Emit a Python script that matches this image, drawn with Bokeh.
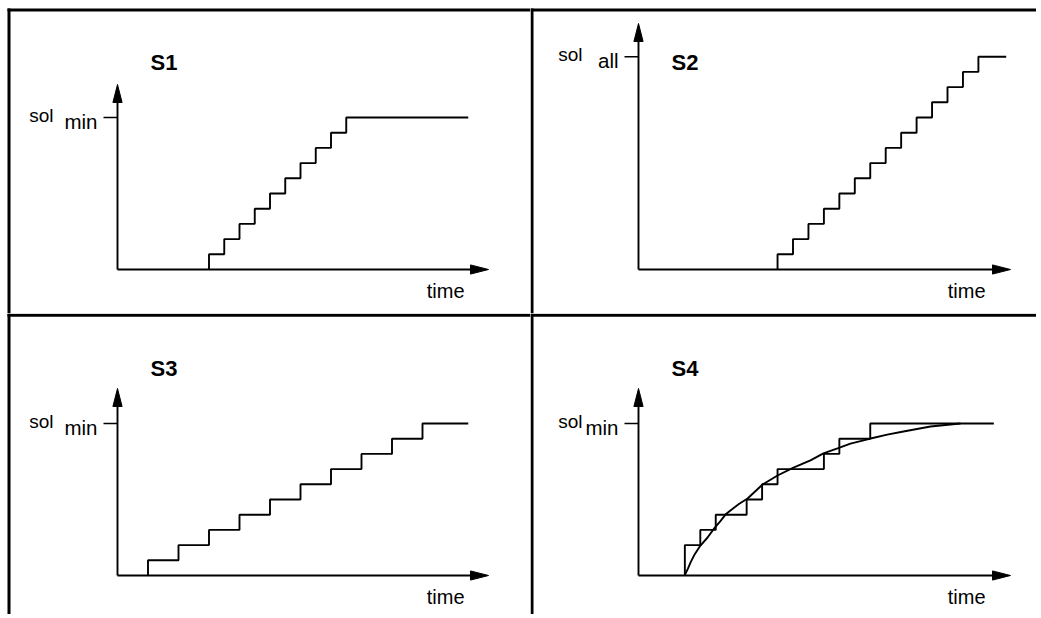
from bokeh.plotting import figure
from bokeh.layouts import gridplot
from bokeh.models import Range1d
from bokeh.core.properties import value
from bokeh.embed import file_html
from bokeh.resources import INLINE

# ---------------- data (time steps / solution levels) ----------------
titles = ["S1", "S2", "S3", "S4"]
sol_subs = ["min", "all", "min", "min"]

s1_step_t = [6, 7, 8, 9, 10, 11, 12, 13, 14, 15]
s1_level = [1, 2, 3, 4, 5, 6, 7, 8, 9, 10]
s1_end_t = 23.0

s2_step_t = [9, 10, 11, 12, 13, 14, 15, 16, 17, 18, 19, 20, 21, 22]
s2_level = [1, 2, 3, 4, 5, 6, 7, 8, 9, 10, 11, 12, 13, 14]
s2_end_t = 23.8

s3_step_t = [2, 4, 6, 8, 10, 12, 14, 16, 18, 20]
s3_level = [1, 2, 3, 4, 5, 6, 7, 8, 9, 10]
s3_end_t = 23.0

s4_step_t = [3, 4, 5, 7, 8, 9, 12, 13, 15]
s4_level = [2, 3, 4, 5, 6, 7, 8, 9, 10]
s4_end_t = 23.0

# smooth curve in S4
s4_curve_t = [2.98, 3.2, 3.37, 3.65, 4.01, 4.47, 4.9, 5.3, 5.63, 5.95, 6.5,
              7.06, 8.03, 9.0, 10.03, 11.13, 11.97, 12.88, 13.72, 15.02,
              16.1, 17.15, 18.9, 20.84]
s4_curve_v = [0.0, 0.45, 0.86, 1.42, 1.97, 2.5, 3.1, 3.58, 4.01, 4.28, 4.7,
              5.07, 5.99, 6.58, 7.1, 7.57, 8.03, 8.36, 8.68, 9.01,
              9.27, 9.47, 9.8, 10.0]

sol_levels = [10, 14, 10, 10]

FONT = value("Liberation Sans")
TXT_SHIFT = 7.0  # px correction of the rendered text baseline


def make_panel(W, H, ox, oy, ux, uy, step_t, level, end_t, title, sub, sol_level,
               xtip_px, ytip_px, sol_right_px, left_x, top_y, left_from_top,
               curve=None):
    X = lambda px: (px - ox) / ux          # local pixel -> data x
    Y = lambda py: (H - oy - py) / uy      # local pixel (from top) -> data y
    p = figure(width=W, height=H, output_backend="svg", toolbar_location=None,
               x_axis_type=None, y_axis_type=None,
               x_range=Range1d(X(0), X(W)), y_range=Range1d(Y(H), Y(0)),
               min_border=0, outline_line_color=None,
               background_fill_color="white", border_fill_color="white")
    p.grid.visible = False

    # frame lines (borders of the 2x2 layout)
    p.segment(x0=[X(left_x)], y0=[Y(left_from_top)], x1=[X(left_x)], y1=[Y(H)],
              line_color="black", line_width=3)
    p.segment(x0=[X(left_x - 1.5)], y0=[Y(top_y)], x1=[X(W)], y1=[Y(top_y)],
              line_color="black", line_width=3)

    lw = 1.9
    hl, hw = 18.0, 4.6
    xt = xtip_px / ux
    yt = ytip_px / uy
    # axes
    p.line([0, xt - hl / ux], [0, 0], line_color="black", line_width=lw)
    p.line([0, 0], [0, yt - hl / uy], line_color="black", line_width=lw)
    p.patch([xt, xt - hl / ux, xt - hl / ux], [0, hw / uy, -hw / uy],
            fill_color="black", line_color="black", line_width=1)
    p.patch([0, hw / ux, -hw / ux], [yt, yt - hl / uy, yt - hl / uy],
            fill_color="black", line_color="black", line_width=1)

    # tick at the solution level
    p.line([-14 / ux, 0], [sol_level, sol_level], line_color="black", line_width=1.5)
    p.text(x=[-sol_right_px / ux], y=[sol_level - (5 - TXT_SHIFT) / uy], text=["sol"],
           text_font=FONT, text_font_size="19px", text_align="right",
           text_baseline="alphabetic", text_color="black")
    p.text(x=[-20 / ux], y=[sol_level - (11 - TXT_SHIFT) / uy], text=[sub],
           text_font=FONT, text_font_size="20.5px", text_align="right",
           text_baseline="alphabetic", text_color="black")

    # title
    p.text(x=[33 / ux], y=[(200 + TXT_SHIFT) / uy], text=[title], text_font=FONT,
           text_font_size="22px", text_font_style="bold",
           text_baseline="alphabetic", text_color="black")
    # time label
    p.text(x=[347 / ux], y=[-(28 - TXT_SHIFT) / uy], text=["time"], text_font=FONT,
           text_font_size="20px", text_align="right",
           text_baseline="alphabetic", text_color="black")

    # staircase
    xs = [step_t[0]] + list(step_t) + [end_t]
    ys = [0] + list(level) + [level[-1]]
    p.step(xs, ys, mode="after", line_color="black", line_width=lw)

    if curve is not None:
        p.line(curve[0], curve[1], line_color="black", line_width=lw)
    return p


UXL, UXR, UY = 15.25, 15.45, 15.2

p1 = make_panel(530, 313, 117, 44, UXL, UY, s1_step_t, s1_level, s1_end_t,
                titles[0], sol_subs[0], sol_levels[0], 371, 185, 64,
                8.5, 9.5, 8.0)
p2 = make_panel(506, 313, 108, 44, UXR, UY, s2_step_t, s2_level, s2_end_t,
                titles[1], sol_subs[1], sol_levels[1], 372, 246, 56,
                1.5, 9.5, 8.0)
p3 = make_panel(530, 301, 117, 39, UXL, UY, s3_step_t, s3_level, s3_end_t,
                titles[2], sol_subs[2], sol_levels[2], 371, 187, 64,
                8.5, 1.8, 0.0)
p4 = make_panel(506, 301, 108, 39, UXR, UY, s4_step_t, s4_level, s4_end_t,
                titles[3], sol_subs[3], sol_levels[3], 372, 187, 56,
                1.5, 1.8, 0.0, curve=(s4_curve_t, s4_curve_v))

grid = gridplot([[p1, p2], [p3, p4]], toolbar_location=None)

open("out.html", "w").write(file_html(grid, INLINE))
